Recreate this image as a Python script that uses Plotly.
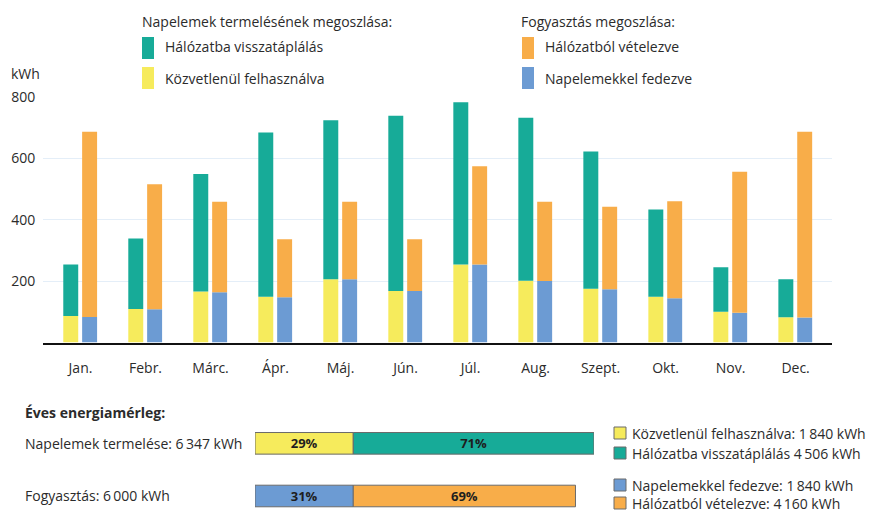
import plotly.graph_objects as go

# ---------------- data ----------------
months = ["Jan.", "Febr.", "Márc.", "Ápr.", "Máj.", "Jún.", "Júl.", "Aug.",
          "Szept.", "Okt.", "Nov.", "Dec."]
direct_used = [86, 109, 166, 149, 206, 168, 254, 201, 175, 149, 100, 82]      # Közvetlenül felhasználva
fed_in = [168, 230, 383, 535, 518, 570, 528, 531, 447, 284, 145, 124]         # Hálózatba visszatáplálás
solar_covered = [83, 108, 164, 147, 206, 168, 254, 200, 173, 144, 97, 81]     # Napelemekkel fedezve
grid_drawn = [603, 407, 294, 189, 252, 168, 320, 258, 269, 316, 459, 605]     # Hálózatból vételezve
y_ticks = [200, 400, 600, 800]

balance_rows = ["Napelemek termelése", "Fogyasztás"]
balance_totals = [6347, 6000]
bal_direct = 1840
bal_fed_in = 4506
bal_solar = 1840
bal_grid = 4160

# ---------------- style ----------------
W, H = 876, 513
FONT = "Open Sans"
TXT = "#2b2b2b"
C_GREEN = "#17ab98"
C_YELLOW = "#f6eb5c"
C_ORANGE = "#f8ad49"
C_BLUE = "#6c9bd3"


def px(x):
    return x / W


def py(y):
    return 1 - y / H


def fmt(n):
    return f"{n:,}".replace(",", "\u2009")


fig = go.Figure()

# main monthly bars (overlay mode, stacking through base)
BW = 0.23
fig.add_trace(go.Bar(x=months, y=direct_used, base=[0] * 12, offset=-0.265, width=BW,
                     marker=dict(color=C_YELLOW, line=dict(width=0)), name="Közvetlenül felhasználva"))
fig.add_trace(go.Bar(x=months, y=fed_in, base=direct_used, offset=-0.265, width=BW,
                     marker=dict(color=C_GREEN, line=dict(width=0)), name="Hálózatba visszatáplálás"))
fig.add_trace(go.Bar(x=months, y=solar_covered, base=[0] * 12, offset=0.025, width=BW,
                     marker=dict(color=C_BLUE, line=dict(width=0)), name="Napelemekkel fedezve"))
fig.add_trace(go.Bar(x=months, y=grid_drawn, base=solar_covered, offset=0.025, width=BW,
                     marker=dict(color=C_ORANGE, line=dict(width=0)), name="Hálózatból vételezve"))

# annual balance bars
prod_total = bal_direct + bal_fed_in
cons_total = bal_solar + bal_grid
pct = lambda a, t: f"<b>{round(100 * a / t)}%</b>"
seg = [
    (balance_rows[0], bal_direct, 0, C_YELLOW, pct(bal_direct, prod_total)),
    (balance_rows[0], bal_fed_in, bal_direct, C_GREEN, pct(bal_fed_in, prod_total)),
    (balance_rows[1], bal_solar, 0, C_BLUE, pct(bal_solar, cons_total)),
    (balance_rows[1], bal_grid, bal_solar, C_ORANGE, pct(bal_grid, cons_total)),
]
for row, val, base, col, label in seg:
    fig.add_trace(go.Bar(y=[row], x=[val], base=[base], orientation="h",
                         xaxis="x2", yaxis="y2", width=0.41, offset=-0.205,
                         marker=dict(color=col, line=dict(color="#6a6a6a", width=1)),
                         text=[label], textposition="inside", insidetextanchor="middle",
                         textfont=dict(family=FONT, size=13, color="#1e1e1e"),
                         constraintext="none", cliponaxis=False))

# ---------------- layout ----------------
x0, x1 = 43, 832
y_top, y_bot = 96.8, 342.5
fig.update_layout(
    width=W, height=H,
    margin=dict(l=0, r=0, t=0, b=0, pad=0, autoexpand=False),
    paper_bgcolor="white", plot_bgcolor="white",
    barmode="overlay",
    showlegend=False,
    font=dict(family=FONT, size=14, color=TXT),
    xaxis=dict(domain=[px(x0), px(x1)], type="category", range=[-0.577, 11.56],
               showgrid=False, showline=True, linecolor="#111111", linewidth=2,
               ticks="outside", ticklen=12, tickcolor="rgba(0,0,0,0)", automargin=False,
               tickfont=dict(family=FONT, size=14, color=TXT), fixedrange=True),
    yaxis=dict(domain=[py(y_bot), py(y_top)], range=[0, 800], tickvals=y_ticks,
               showgrid=True, gridcolor="#e4eef8", gridwidth=1, zeroline=False,
               showline=False, ticks="outside", ticklen=4, tickcolor="rgba(0,0,0,0)",
               automargin=False,
               tickfont=dict(family=FONT, size=14, color=TXT), fixedrange=True),
    xaxis2=dict(domain=[px(255), px(594)], range=[0, 6347], anchor="y2",
                visible=False, fixedrange=True, automargin=False),
    yaxis2=dict(domain=[py(513), py(417)], type="category", categoryorder="array",
                categoryarray=balance_rows, range=[1.323, -0.5], anchor="x2",
                visible=False, fixedrange=True, automargin=False),
)

shapes = []
ann = []


def text(x, y, s, size=14, bold=False, color=TXT):
    ann.append(dict(x=px(x), y=py(y), xref="paper", yref="paper", xanchor="left",
                    yanchor="middle", showarrow=False,
                    text=f"<b>{s}</b>" if bold else s,
                    font=dict(family=FONT, size=size, color=color)))


def swatch(x, y, w, h, col, line=False):
    shapes.append(dict(type="rect", xref="paper", yref="paper",
                       x0=px(x), x1=px(x + w), y0=py(y + h), y1=py(y),
                       fillcolor=col,
                       line=dict(color="#6a6a6a", width=1) if line else dict(width=0)))


# top legends
text(140, 21, "Napelemek termelésének megoszlása:")
swatch(142, 37, 12, 22, C_GREEN)
text(163, 47, "Hálózatba visszatáplálás")
swatch(142, 67, 12, 22, C_YELLOW)
text(163, 79, "Közvetlenül felhasználva")

text(519, 21, "Fogyasztás megoszlása:")
swatch(522, 37, 12, 22, C_ORANGE)
text(543, 47, "Hálózatból vételezve")
swatch(522, 67, 12, 22, C_BLUE)
text(543, 79, "Napelemekkel fedezve")

# axis unit
text(9, 73, "kWh")

# annual balance texts
text(23, 412, "Éves energiamérleg:", bold=True)
text(23, 443, f"{balance_rows[0]}: {fmt(balance_totals[0])} kWh")
text(23, 495, f"{balance_rows[1]}: {fmt(balance_totals[1])} kWh")

swatch(614, 427, 12, 12, C_YELLOW, True)
text(630, 433, f"Közvetlenül felhasználva: {fmt(bal_direct)} kWh")
swatch(614, 447, 12, 12, C_GREEN, True)
text(630, 453, f"Hálózatba visszatáplálás {fmt(bal_fed_in)} kWh")
swatch(614, 479, 12, 12, C_BLUE, True)
text(630, 485, f"Napelemekkel fedezve: {fmt(bal_solar)} kWh")
swatch(614, 497, 12, 12, C_ORANGE, True)
text(630, 503, f"Hálózatból vételezve: {fmt(bal_grid)} kWh")

fig.update_layout(shapes=shapes, annotations=ann)

fig.write_html("out.html", config={"displayModeBar": False},
               post_script="document.body.style.margin='0px';")
